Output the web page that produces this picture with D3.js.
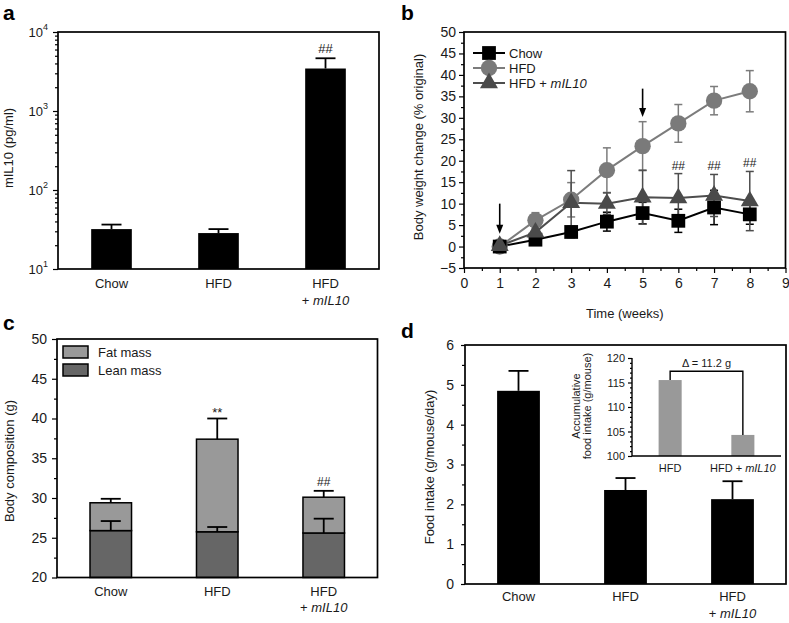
<!DOCTYPE html>
<html><head><meta charset="utf-8">
<script src="https://cdn.jsdelivr.net/npm/d3@7"></script>
<style>body{margin:0;background:#fff} svg{display:block}</style>
</head><body><svg id="c" width="789" height="623"></svg>
<script>
// ---------------- DATA ----------------
const groups = ["Chow", "HFD", "HFD + mIL10"];
// panel a
const il10Mean = [32, 28.5, 3450];
const il10Err = [4.5, 3.5, 1200];
const logMajorTicks = [10, 100, 1000, 10000];
const logExponents = ["1", "2", "3", "4"];
// panel b
const weeks = [1, 2, 3, 4, 5, 6, 7, 8];
const chowWeight = [0, 1.6, 3.4, 5.8, 7.8, 6.0, 9.1, 7.5];
const chowWeightErr = [0.4, 0.9, 1.3, 2.2, 2.5, 2.7, 4.0, 2.3];
const hfdWeight = [0, 6.1, 10.9, 17.8, 23.4, 28.7, 34.0, 36.2];
const hfdWeightErr = [0.4, 1.8, 4.0, 5.2, 5.7, 4.4, 3.3, 4.8];
const il10Weight = [0.2, 3.3, 10.2, 10.0, 11.5, 11.3, 11.9, 10.6];
const il10WeightErr = [0.4, 1.5, 7.5, 2.5, 6.3, 5.7, 4.9, 6.9];
const seriesNames = ["Chow", "HFD", "HFD + mIL10"];
const arrowWeeks = [1, 5];
const arrowFrom = [10, 36.8];
const arrowTo = [3, 30.2];
const sigWeeks = [6, 7, 8];
// panel c
const leanMass = [25.9, 25.75, 25.6];
const leanErr = [1.2, 0.6, 1.8];
const fatMass = [3.5, 11.65, 4.5];
const totalErr = [0.5, 2.6, 0.8];
const compLegend = ["Fat mass", "Lean mass"];
// panel d
const foodIntake = [4.85, 2.36, 2.13];
const foodErr = [0.5, 0.3, 0.45];
const insetGroups = ["HFD", "HFD + mIL10"];
const cumIntake = [115.5, 104.3];
const deltaLabel = "\u0394 = 11.2 g";

// ---------------- HELPERS ----------------
const FONT = '"Liberation Sans", Arial, Helvetica, sans-serif';
const TXT = "#1a1a1a";
const svg = d3.select("#c").attr("font-family", FONT).attr("fill", TXT);

function frame(x0, y0, x1, y1) {
  svg.append("rect").attr("x", x0).attr("y", y0).attr("width", x1 - x0).attr("height", y1 - y0)
    .attr("fill", "none").attr("stroke", "#000").attr("stroke-width", 1.7);
}
function styleAxis(g, size) {
  g.attr("font-family", FONT).attr("font-size", size || 14);
  g.select(".domain").remove();
  g.selectAll(".tick line").attr("stroke", "#000").attr("stroke-width", 1.2);
  g.selectAll(".tick text").attr("fill", TXT);
}
function groupLabel(x, y, name, lineH, size) {
  const t = svg.append("text").attr("x", x).attr("y", y).attr("text-anchor", "middle").attr("font-size", size);
  if (name.indexOf("mIL10") >= 0) {
    const base = name.replace(" + mIL10", "");
    if (lineH) {
      t.text(base);
      const t2 = svg.append("text").attr("x", x).attr("y", y + lineH).attr("text-anchor", "middle").attr("font-size", size);
      t2.append("tspan").text("+ ");
      t2.append("tspan").attr("font-style", "italic").text("mIL10");
    } else {
      t.append("tspan").text(base + " + ");
      t.append("tspan").attr("font-style", "italic").text("mIL10");
    }
  } else t.text(name);
}
function yTitle(x, y, lines, size, gap) {
  lines.forEach((l, i) => {
    svg.append("text").attr("transform", `translate(${x + i * (gap || 0)},${y}) rotate(-90)`)
      .attr("text-anchor", "middle").attr("font-size", size).text(l);
  });
}
function panelLetter(x, y, s) {
  svg.append("text").attr("x", x).attr("y", y).attr("font-size", 21).attr("font-weight", "bold").attr("fill", "#000").text(s);
}
function errBars(data, xf, y0f, y1f, half, color, w) {
  const g = svg.append("g").attr("stroke", color).attr("stroke-width", w || 1.6);
  g.selectAll("line.v").data(data).join("line").attr("class", "v")
    .attr("x1", xf).attr("x2", xf).attr("y1", y0f).attr("y2", y1f);
  g.selectAll("line.c").data(data).join("line").attr("class", "c")
    .attr("x1", d => xf(d) - half).attr("x2", d => xf(d) + half).attr("y1", y1f).attr("y2", y1f);
}
const intFmt = d3.format("d");

// ---------------- PANEL A ----------------
const A = { l: 58, r: 379, t: 32, b: 269 };
const xa = d3.scaleBand().domain(groups).range([A.l, A.r]).paddingInner(0.62).paddingOuter(0.31);
const ya = d3.scaleLog().domain([10, 10000]).range([A.b, A.t]);
const aData = groups.map((g, i) => ({ g, v: il10Mean[i], e: il10Err[i] }));
svg.append("g").selectAll("rect").data(aData).join("rect")
  .attr("x", d => xa(d.g)).attr("width", xa.bandwidth())
  .attr("y", d => ya(d.v)).attr("height", d => A.b - ya(d.v)).attr("fill", "#000");
errBars(aData, d => xa(d.g) + xa.bandwidth() / 2, d => ya(d.v), d => ya(d.v + d.e), 10, "#000", 1.8);
const aMinor = [];
logMajorTicks.slice(0, 3).forEach(m => { for (let k = 2; k <= 9; k++) aMinor.push(m * k); });
styleAxis(svg.append("g").attr("transform", `translate(${A.l},0)`)
  .call(d3.axisLeft(ya).tickValues(aMinor).tickSize(3).tickFormat("")));
styleAxis(svg.append("g").attr("transform", `translate(${A.l},0)`)
  .call(d3.axisLeft(ya).tickValues(logMajorTicks).tickSize(5).tickFormat("")));
const aLab = svg.append("g").selectAll("text").data(logMajorTicks).join("text")
  .attr("x", A.l - 10).attr("y", d => ya(d) + 5).attr("text-anchor", "end").attr("font-size", 13);
aLab.append("tspan").text("10");
aLab.append("tspan").attr("font-size", 9).attr("dy", -7).text((d, i) => logExponents[i]);
frame(A.l, A.t, A.r, A.b);
groups.forEach(g => groupLabel(xa(g) + xa.bandwidth() / 2, 288, g, 17, 13));
svg.append("text").attr("x", xa(groups[2]) + xa.bandwidth() / 2).attr("y", ya(il10Mean[2] + il10Err[2]) - 5)
  .attr("text-anchor", "middle").attr("font-size", 13).text("##");
yTitle(13, 148, ["mIL10 (pg/ml)"], 13);
panelLetter(3, 20, "a");

// ---------------- PANEL B ----------------
const B = { l: 464, r: 785.5, t: 32, b: 268 };
const xb = d3.scaleLinear().domain([0, 9]).range([B.l, B.r]);
const yb = d3.scaleLinear().domain([-5, 50]).range([B.b, B.t]);
styleAxis(svg.append("g").attr("transform", `translate(0,${B.b})`)
  .call(d3.axisBottom(xb).tickValues(d3.range(0.5, 9, 1)).tickSize(3).tickFormat("")));
styleAxis(svg.append("g").attr("transform", `translate(0,${B.b})`)
  .call(d3.axisBottom(xb).tickValues(d3.range(0, 10, 1)).tickSize(5).tickPadding(5).tickFormat(intFmt)));
styleAxis(svg.append("g").attr("transform", `translate(${B.l},0)`)
  .call(d3.axisLeft(yb).tickValues(d3.range(-2.5, 50, 5)).tickSize(3).tickFormat("")));
styleAxis(svg.append("g").attr("transform", `translate(${B.l},0)`)
  .call(d3.axisLeft(yb).tickValues(d3.range(-5, 51, 5)).tickSize(5).tickPadding(3).tickFormat(d3.format("d"))));
frame(B.l, B.t, B.r, B.b);

const series = [
  { name: seriesNames[0], vals: chowWeight, errs: chowWeightErr, color: "#000", fill: "#000", sym: d3.symbolSquare, size: 190 },
  { name: seriesNames[1], vals: hfdWeight, errs: hfdWeightErr, color: "#7c7c7c", fill: "#7a7a7a", sym: d3.symbolCircle, size: 210 },
  { name: seriesNames[2], vals: il10Weight, errs: il10WeightErr, color: "#4d4d4d", fill: "#4a4a4a", sym: d3.symbolTriangle, size: 140 }
];
series.forEach(s => {
  const pts = weeks.map((w, i) => ({ w, v: s.vals[i], e: s.errs[i] }));
  const g = svg.append("g").attr("stroke", s.color).attr("stroke-width", 1.5);
  g.selectAll("line").data(pts).join("line")
    .attr("x1", d => xb(d.w)).attr("x2", d => xb(d.w)).attr("y1", d => yb(d.v - d.e)).attr("y2", d => yb(d.v + d.e));
  g.selectAll("path").data(pts.flatMap(d => [d.v - d.e, d.v + d.e].map(y => ({ w: d.w, y })))).join("path")
    .attr("d", d => `M${xb(d.w) - 4},${yb(d.y)}H${xb(d.w) + 4}`);
});
series.forEach(s => {
  svg.append("path").datum(weeks.map((w, i) => [w, s.vals[i]]))
    .attr("d", d3.line().x(d => xb(d[0])).y(d => yb(d[1])))
    .attr("fill", "none").attr("stroke", s.color).attr("stroke-width", 2);
});
[series[1], series[0], series[2]].forEach(s => {
  svg.append("g").selectAll("path").data(weeks.map((w, i) => [w, s.vals[i]])).join("path")
    .attr("transform", d => `translate(${xb(d[0])},${yb(d[1])})`)
    .attr("d", d3.symbol().type(s.sym).size(s.size)).attr("fill", s.fill);
});
// arrows
const arr = arrowWeeks.map((w, i) => ({ w, f: arrowFrom[i], t: arrowTo[i] }));
svg.append("g").selectAll("line").data(arr).join("line")
  .attr("x1", d => xb(d.w)).attr("x2", d => xb(d.w)).attr("y1", d => yb(d.f)).attr("y2", d => yb(d.t) - 6)
  .attr("stroke", "#000").attr("stroke-width", 1.6);
svg.append("g").selectAll("path").data(arr).join("path")
  .attr("d", d => `M${xb(d.w) - 3.5},${yb(d.t) - 9}L${xb(d.w) + 3.5},${yb(d.t) - 9}L${xb(d.w)},${yb(d.t)}Z`)
  .attr("fill", "#000");
// significance
svg.append("g").selectAll("text").data(sigWeeks).join("text")
  .attr("x", d => xb(d)).attr("y", d => { const i = weeks.indexOf(d); return yb(il10Weight[i] + il10WeightErr[i]) - 4; })
  .attr("text-anchor", "middle").attr("font-size", 12).text("##");
// legend
const lg = svg.append("g").selectAll("g").data(series).join("g")
  .attr("transform", (d, i) => `translate(489,${53 + i * 15})`);
lg.append("line").attr("x1", -16).attr("x2", 16).attr("stroke", d => d.color).attr("stroke-width", 2);
lg.append("path").attr("d", d => d3.symbol().type(d.sym).size(d.size)()).attr("fill", d => d.fill);
const lt = lg.append("text").attr("x", 20).attr("dy", "0.36em").attr("font-size", 13);
lt.append("tspan").text(d => d.name.indexOf("mIL10") >= 0 ? "HFD + " : d.name);
lt.append("tspan").attr("font-style", "italic").text(d => d.name.indexOf("mIL10") >= 0 ? "mIL10" : "");
svg.append("text").attr("x", (B.l + B.r) / 2).attr("y", 318).attr("text-anchor", "middle").attr("font-size", 13).text("Time (weeks)");
yTitle(422.5, 147, ["Body weight change (% original)"], 13);
panelLetter(401, 20, "b");

// ---------------- PANEL C ----------------
const C = { l: 57, r: 377.5, t: 339, b: 577.5 };
const xc = d3.scaleBand().domain(groups).range([C.l, C.r]).paddingInner(0.61).paddingOuter(0.31);
const yc = d3.scaleLinear().domain([20, 50]).range([C.b, C.t]);
const cData = groups.map((g, i) => ({ g, lean: leanMass[i], le: leanErr[i], tot: leanMass[i] + fatMass[i], te: totalErr[i] }));
const cb = svg.append("g").attr("stroke", "#000").attr("stroke-width", 1.5);
cb.selectAll("rect.lean").data(cData).join("rect").attr("class", "lean")
  .attr("x", d => xc(d.g)).attr("width", xc.bandwidth()).attr("y", d => yc(d.lean)).attr("height", d => yc(20) - yc(d.lean)).attr("fill", "#666666");
cb.selectAll("rect.fat").data(cData).join("rect").attr("class", "fat")
  .attr("x", d => xc(d.g)).attr("width", xc.bandwidth()).attr("y", d => yc(d.tot)).attr("height", d => yc(d.lean) - yc(d.tot)).attr("fill", "#999999");
errBars(cData, d => xc(d.g) + xc.bandwidth() / 2, d => yc(d.lean), d => yc(d.lean + d.le), 10, "#000", 1.8);
errBars(cData, d => xc(d.g) + xc.bandwidth() / 2, d => yc(d.tot), d => yc(d.tot + d.te), 10, "#000", 1.8);
styleAxis(svg.append("g").attr("transform", `translate(${C.l},0)`)
  .call(d3.axisLeft(yc).tickValues(d3.range(22.5, 50, 5)).tickSize(3).tickFormat("")));
styleAxis(svg.append("g").attr("transform", `translate(${C.l},0)`)
  .call(d3.axisLeft(yc).tickValues(d3.range(20, 51, 5)).tickSize(5).tickPadding(5).tickFormat(intFmt)));
frame(C.l, C.t, C.r, C.b);
groups.forEach(g => groupLabel(xc(g) + xc.bandwidth() / 2, 596, g, 16, 13));
svg.append("text").attr("x", xc(groups[1]) + xc.bandwidth() / 2).attr("y", yc(cData[1].tot + cData[1].te) + 0)
  .attr("text-anchor", "middle").attr("font-size", 13).attr("dy", -2).text("**");
svg.append("text").attr("x", xc(groups[2]) + xc.bandwidth() / 2).attr("y", yc(cData[2].tot + cData[2].te) - 5)
  .attr("text-anchor", "middle").attr("font-size", 12).text("##");
const cl = svg.append("g").selectAll("g").data(compLegend).join("g")
  .attr("transform", (d, i) => `translate(63,${346 + i * 18})`);
cl.append("rect").attr("width", 25).attr("height", 12).attr("fill", (d, i) => i === 0 ? "#999999" : "#666666")
  .attr("stroke", "#000").attr("stroke-width", 1.5);
cl.append("text").attr("x", 35).attr("y", 6).attr("dy", "0.36em").attr("font-size", 13).text(d => d);
yTitle(13.5, 461, ["Body composition (g)"], 13);
panelLetter(3, 330, "c");

// ---------------- PANEL D ----------------
const D = { l: 465, r: 786, t: 345, b: 584 };
const xd = d3.scaleBand().domain(groups).range([D.l, D.r]).paddingInner(0.6).paddingOuter(0.3);
const yd = d3.scaleLinear().domain([0, 6]).range([D.b, D.t]);
const dData = groups.map((g, i) => ({ g, v: foodIntake[i], e: foodErr[i] }));
svg.append("g").selectAll("rect").data(dData).join("rect")
  .attr("x", d => xd(d.g)).attr("width", xd.bandwidth()).attr("y", d => yd(d.v)).attr("height", d => D.b - yd(d.v)).attr("fill", "#000");
errBars(dData, d => xd(d.g) + xd.bandwidth() / 2, d => yd(d.v), d => yd(d.v + d.e), 10, "#000", 1.8);
styleAxis(svg.append("g").attr("transform", `translate(${D.l},0)`)
  .call(d3.axisLeft(yd).tickValues(d3.range(0.5, 6, 1)).tickSize(3).tickFormat("")));
styleAxis(svg.append("g").attr("transform", `translate(${D.l},0)`)
  .call(d3.axisLeft(yd).tickValues(d3.range(0, 7, 1)).tickSize(4).tickPadding(7).tickFormat(intFmt)));
frame(D.l, D.t, D.r, D.b);
groups.forEach(g => groupLabel(xd(g) + xd.bandwidth() / 2, 601, g, 17, 13));
yTitle(433.5, 467, ["Food intake (g/mouse/day)"], 13);
panelLetter(401, 338, "d");

// inset
const I = { l: 632, r: 781, t: 358, b: 456 };
const xi = d3.scaleBand().domain(insetGroups).range([I.l, I.r]).paddingInner(0.683).paddingOuter(0.366);
const yi = d3.scaleLinear().domain([100, 120]).range([I.b, I.t]);
const iData = insetGroups.map((g, i) => ({ g, v: cumIntake[i] }));
svg.append("g").selectAll("rect").data(iData).join("rect")
  .attr("x", d => xi(d.g)).attr("width", xi.bandwidth()).attr("y", d => yi(d.v)).attr("height", d => I.b - yi(d.v)).attr("fill", "#999999");
styleAxis(svg.append("g").attr("transform", `translate(${I.l},0)`)
  .call(d3.axisLeft(yi).tickValues(d3.range(101, 120, 1).filter(v => v % 5)).tickSize(2).tickFormat("")), 11);
styleAxis(svg.append("g").attr("transform", `translate(${I.l},0)`)
  .call(d3.axisLeft(yi).tickValues(d3.range(100, 121, 5)).tickSize(4).tickPadding(3).tickFormat(intFmt)), 11);
svg.append("path").attr("d", `M${I.l},${I.t}V${I.b}H${I.r}`).attr("fill", "none").attr("stroke", "#000").attr("stroke-width", 1.4);
const bracketTop = yi(d3.max(cumIntake) + 1.8);
const cx0 = xi(insetGroups[0]) + xi.bandwidth() / 2, cx1 = xi(insetGroups[1]) + xi.bandwidth() / 2;
svg.append("path").attr("d", `M${cx0},${yi(cumIntake[0])}V${bracketTop}H${cx1}V${yi(cumIntake[1])}`)
  .attr("fill", "none").attr("stroke", "#000").attr("stroke-width", 1.4);
svg.append("text").attr("x", (cx0 + cx1) / 2).attr("y", bracketTop - 4).attr("text-anchor", "middle").attr("font-size", 11).text(deltaLabel);
insetGroups.forEach(g => groupLabel(xi(g) + xi.bandwidth() / 2, 472, g, 0, 11));
yTitle(580, 406, ["Accumulative", "food intake (g/mouse)"], 11, 11);
</script></body></html>
